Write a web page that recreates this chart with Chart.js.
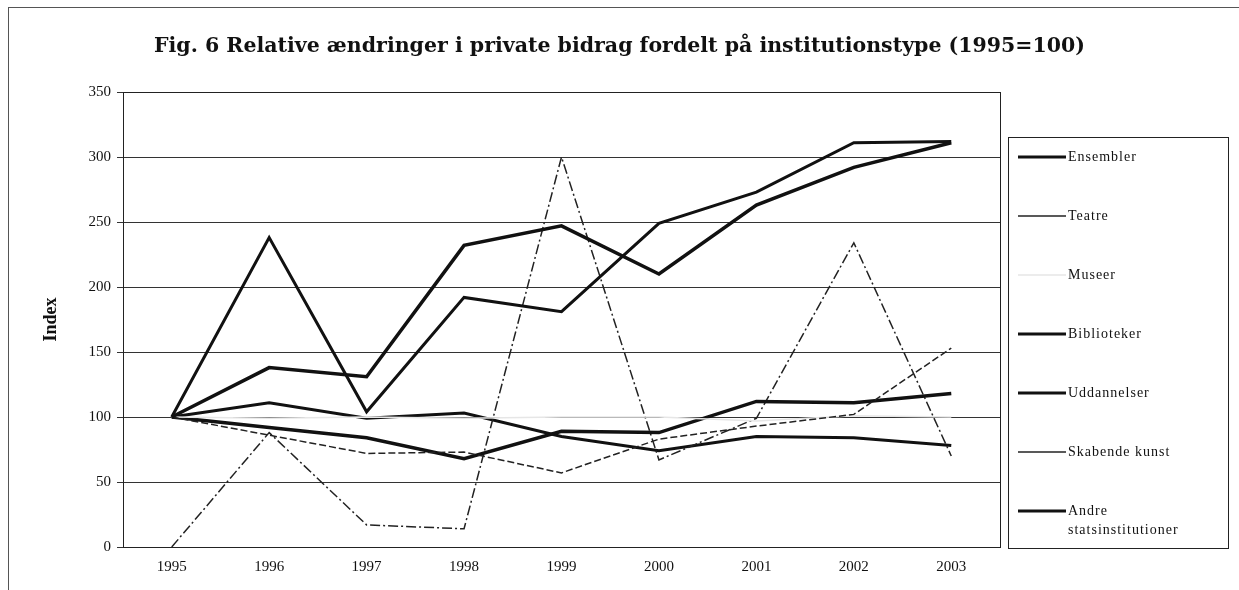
<!DOCTYPE html>
<html>
<head>
<meta charset="utf-8">
<script src="https://cdn.jsdelivr.net/npm/chart.js@4.4.1/dist/chart.umd.min.js"></script>
<style>
  body { margin: 0; background: #fff; }
  #frame { position: absolute; left: 8px; top: 7px; width: 1300px; height: 620px; border: 1px solid #555; }
  #wrap { position: absolute; left: 0; top: 0; width: 1239px; height: 590px; }
</style>
</head>
<body>
<div id="frame"></div>
<div id="wrap"><canvas id="chart" width="1239" height="590"></canvas></div>
<script>
// years on the category axis
const years = ['1995', '1996', '1997', '1998', '1999', '2000', '2001', '2002', '2003'];
const yTicks = [0, 50, 100, 150, 200, 250, 300, 350];

// index values (1995 = 100)
const ensembler     = [100, 138, 131, 232, 247, 210, 263, 292, 311];
const teatre        = [100, 86, 72, 73, 57, 83, 93, 102, 153];
const museer        = [100, 99, 100, 99, 100, 100, 97, 101, 100];
const biblioteker   = [100, 238, 104, 192, 181, 249, 273, 311, 312];
const uddannelser   = [100, 92, 84, 68, 89, 88, 112, 111, 118];
const skabende      = [0, 88, 17, 14, 300, 67, 99, 234, 70];
const andre         = [100, 111, 99, 103, 85, 74, 85, 84, 78];

const seriesNames = ['Ensembler', 'Teatre', 'Museer', 'Biblioteker', 'Uddannelser', 'Skabende kunst', 'Andre\nstatsinstitutioner'];
const chartTitle = 'Fig. 6 Relative ændringer i private bidrag fordelt på institutionstype (1995=100)';

function makeSet(label, data, color, width, dash) {
    return {
        label: label,
        data: data,
        borderColor: color,
        backgroundColor: color,
        borderWidth: width,
        borderDash: dash,
        pointRadius: 0,
        tension: 0,
        fill: false
    };
}

// title centred on the whole page, not just the plot
const pageTitle = {
    id: 'pageTitle',
    afterDraw(chart) {
        const c = chart.ctx;
        c.save();
        c.font = 'bold 20.5px "DejaVu Serif", serif';
        c.fillStyle = '#111';
        c.textAlign = 'center';
        c.textBaseline = 'middle';
        c.fillText(chartTitle, chart.width / 2, 47);
        c.restore();
    }
};

// plot frame (right and top edges of the plot area)
const plotFrame = {
    id: 'plotFrame',
    beforeDatasetsDraw(chart) {
        const { ctx, chartArea: a } = chart;
        ctx.save();
        ctx.strokeStyle = '#222';
        ctx.lineWidth = 1;
        ctx.strokeRect(a.left + 0.5, a.top + 0.5, a.right - a.left, a.bottom - a.top);
        ctx.restore();
    }
};

// legend drawn as the tall boxed key to the right of the plot
const boxLegend = {
    id: 'boxLegend',
    afterDraw(chart) {
        const { ctx, chartArea: a } = chart;
        const left = a.right + 8, top = 137, right = 1228, bottom = 548;
        ctx.save();
        ctx.strokeStyle = '#222';
        ctx.lineWidth = 1;
        ctx.strokeRect(left + 0.5, top + 0.5, right - left, bottom - top);
        ctx.font = '14px "Liberation Serif", serif';
        ctx.letterSpacing = '1px';
        ctx.fillStyle = '#111';
        ctx.textBaseline = 'middle';
        chart.data.datasets.forEach((ds, i) => {
            const y = 157 + i * 59;
            ctx.beginPath();
            ctx.strokeStyle = ds.borderColor;
            ctx.lineWidth = Math.min(ds.borderWidth, 3);
            ctx.setLineDash([]);
            ctx.moveTo(left + 10, y);
            ctx.lineTo(left + 58, y);
            ctx.stroke();
            const lines = seriesNames[i].split('\n');
            lines.forEach((t, j) => ctx.fillText(t, left + 60, y + j * 19));
        });
        ctx.restore();
    }
};

const ctx = document.getElementById('chart').getContext('2d');
new Chart(ctx, {
    type: 'line',
    data: {
        labels: years,
        datasets: [
            makeSet('Ensembler', ensembler, '#111', 3.5, []),
            makeSet('Teatre', teatre, '#222', 1.5, [7, 3]),
            makeSet('Museer', museer, '#e6e6e6', 1.5, []),
            makeSet('Biblioteker', biblioteker, '#111', 3, []),
            makeSet('Uddannelser', uddannelser, '#111', 3.5, []),
            makeSet('Skabende kunst', skabende, '#222', 1.5, [10, 3, 2, 3]),
            makeSet('Andre statsinstitutioner', andre, '#111', 3, [])
        ]
    },
    options: {
        responsive: false,
        animation: false,
        layout: { padding: { left: 0, right: 239, top: 92, bottom: 0 } },
        plugins: {
            legend: { display: false },
            tooltip: { enabled: false },
            title: { display: false }
        },
        scales: {
            x: {
                type: 'category',
                offset: true,
                grid: { display: false, drawTicks: false },
                border: { display: true, color: '#111', width: 1 },
                ticks: {
                    color: '#111',
                    padding: 11,
                    maxRotation: 0,
                    font: { family: '"Liberation Serif", serif', size: 15 }
                },
                afterFit(scale) { scale.height = 43; }
            },
            y: {
                min: 0,
                max: 350,
                afterBuildTicks(scale) { scale.ticks = yTicks.map(v => ({ value: v })); },
                grid: { color: '#333', lineWidth: 1, tickLength: 6 },
                border: { display: true, color: '#111', width: 1 },
                ticks: {
                    color: '#111',
                    padding: 6,
                    font: { family: '"Liberation Serif", serif', size: 15 }
                },
                title: {
                    display: true,
                    text: 'Index',
                    color: '#111',
                    font: { family: '"Liberation Serif", serif', size: 18, weight: 'bold' },
                    padding: { top: 41, bottom: 0 }
                },
                afterFit(scale) { scale.width = 123; }
            }
        }
    },
    plugins: [pageTitle, plotFrame, boxLegend]
});
</script>
</body>
</html>
